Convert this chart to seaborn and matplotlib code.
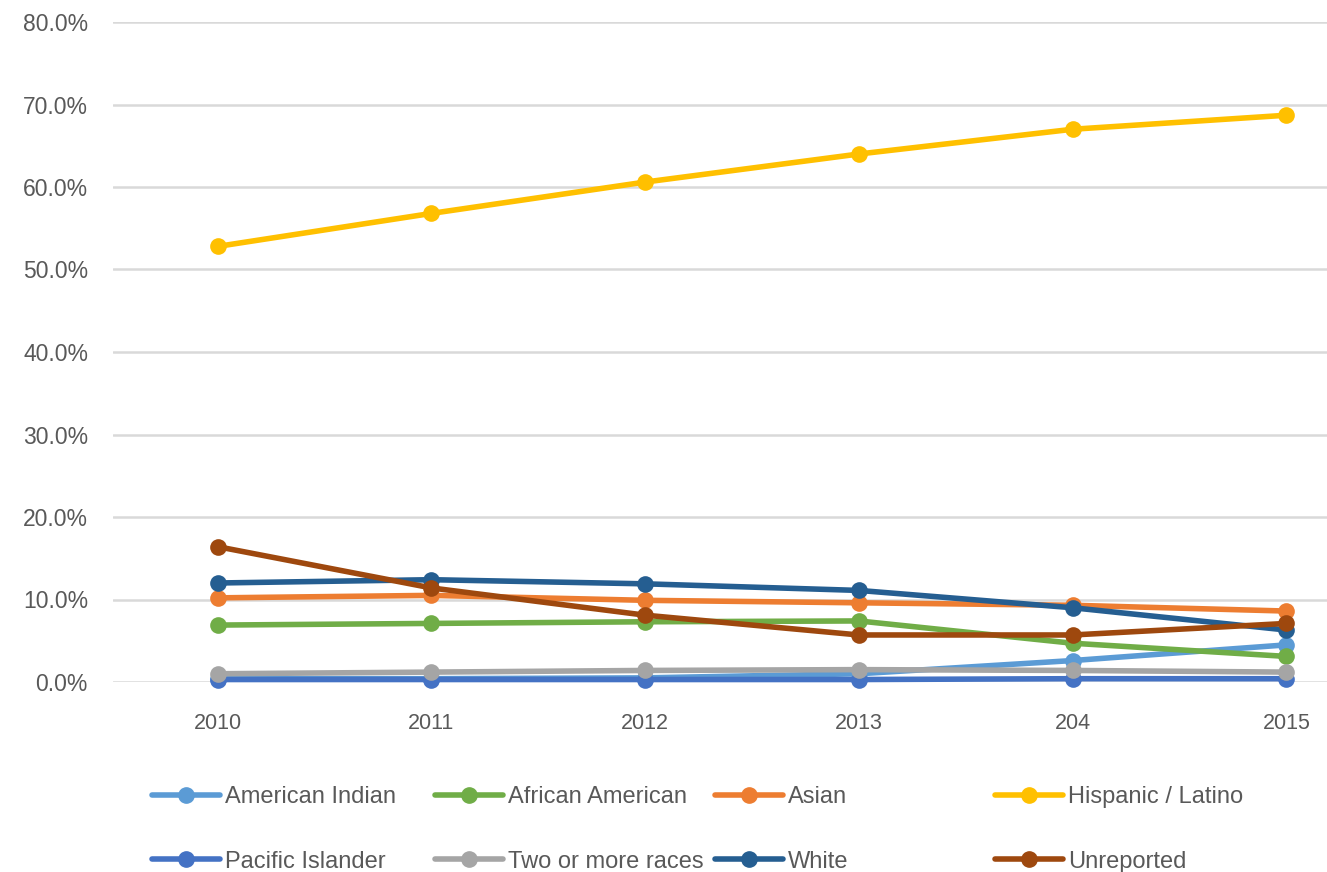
import matplotlib.pyplot as plt
import seaborn as sns
import pandas as pd
from matplotlib.lines import Line2D
from matplotlib.ticker import PercentFormatter

# Data (share of students, percent)
years=["2010","2011","2012","2013","204","2015"]
american_indian=[0.4,0.4,0.5,1.0,2.6,4.5]
african_american=[6.9,7.1,7.3,7.4,4.7,3.1]
asian=[10.2,10.5,9.9,9.6,9.3,8.6]
hispanic=[52.8,56.8,60.6,64.0,67.0,68.7]
pacific_islander=[0.3,0.3,0.3,0.3,0.4,0.4]
two_or_more=[1.0,1.2,1.4,1.5,1.4,1.2]
white=[12.0,12.4,11.9,11.1,9.0,6.3]
unreported=[16.4,11.4,8.1,5.7,5.7,7.1]

groups=["American Indian","African American","Asian","Hispanic / Latino",
	"Pacific Islander","Two or more races","White","Unreported"]
series=[american_indian,african_american,asian,hispanic,
	pacific_islander,two_or_more,white,unreported]
colors=["#5B9BD5","#70AD47","#ED7D31","#FFC000","#4472C4","#A5A5A5","#255E91","#9E480E"]
palette=dict(zip(groups,colors))

rows=[]
for g,vals in zip(groups,series):
	for y,v in zip(years,vals):
		rows.append([y,g,v/100])
df=pd.DataFrame(rows,columns=["year","group","value"])

sns.set_style("white")
plt.rcParams['font.family']=['Liberation Sans','DejaVu Sans']
text_color="#595959"

W,H=1327,872
fig=plt.figure(figsize=(W/100,H/100),dpi=100)
# axes placed in pixel terms: left 113, right 1327, bottom 682, top 22
ax=fig.add_axes([113/W,(H-682)/H,(W-113)/W,(682-22)/H])

sns.lineplot(data=df,x="year",y="value",hue="group",palette=palette,hue_order=groups,
	marker="o",markersize=12,markeredgewidth=0,linewidth=4,legend=False,sort=False,ax=ax)
for line in ax.lines:
	line.set_clip_on(False)

ax.set_xlim(-0.49,5.19)
ax.set_ylim(0,0.8)
ax.set_yticks([i/10 for i in range(9)])
ax.yaxis.set_major_formatter(PercentFormatter(1.0,decimals=1))
ax.grid(axis="y",color="#D9D9D9",linewidth=1.8)
ax.set_axisbelow(True)
for s in ax.spines.values():
	s.set_visible(False)
ax.tick_params(axis="y",length=0,pad=18,labelsize=16.5,labelcolor=text_color)
ax.tick_params(axis="x",length=0,pad=22,labelsize=15.5,labelcolor=text_color)
ax.set_xlabel("")
ax.set_ylabel("")

# Legend: four equal-width columns, two rows
col_x=[152,435,715,995]
for c in range(4):
	handles=[]
	for r in range(2):
		i=c+4*r
		handles.append(Line2D([0],[0],color=colors[i],linewidth=4,marker="o",markersize=11,
			label=groups[i]))
	leg=fig.legend(handles=handles,loc="upper left",bbox_to_anchor=(col_x[c]/W,1-786/H),
		frameon=False,fontsize=17,labelcolor=text_color,handlelength=2.9,handletextpad=0.2,
		labelspacing=1.8,borderaxespad=0,borderpad=0)

fig.savefig("out.png",dpi=100)
